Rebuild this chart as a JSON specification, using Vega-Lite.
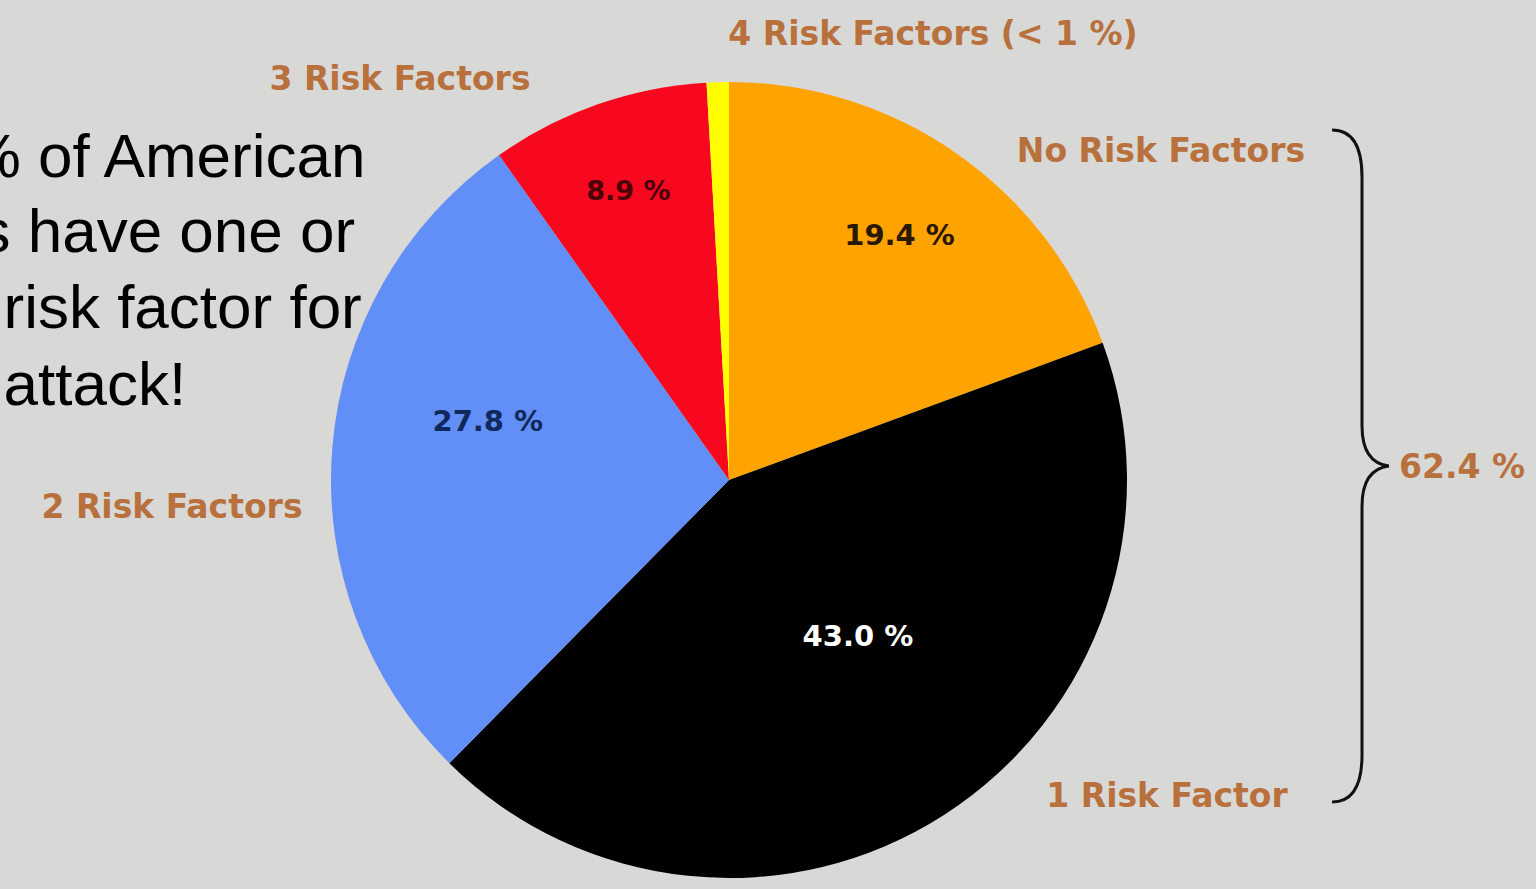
{
  "$schema": "https://vega.github.io/schema/vega-lite/v6.json",
  "width": 1536,
  "height": 889,
  "autosize": {"type": "none"},
  "padding": 0,
  "background": "#d8d8d6",
  "config": {"view": {"stroke": null}},
  "layer": [
    {
      "data": {"values": [
        {"group": "No Risk Factors", "pct": 19.4, "ord": 1, "label": "19.4 %"},
        {"group": "1 Risk Factor", "pct": 43.0, "ord": 2, "label": "43.0 %"},
        {"group": "2 Risk Factors", "pct": 27.8, "ord": 3, "label": "27.8 %"},
        {"group": "3 Risk Factors", "pct": 8.9, "ord": 4, "label": "8.9 %"},
        {"group": "4 Risk Factors", "pct": 0.9, "ord": 5, "label": "< 1 %"}
      ]},
      "encoding": {
        "x": {"datum": 729, "type": "quantitative", "scale": {"domain": [0, 1536], "nice": false, "zero": false}, "axis": null},
        "y": {"datum": 480, "type": "quantitative", "scale": {"domain": [0, 889], "nice": false, "zero": false, "reverse": true}, "axis": null},
        "theta": {"field": "pct", "type": "quantitative", "stack": true},
        "order": {"field": "ord", "type": "quantitative"}
      },
      "layer": [
        {
          "mark": {"type": "arc", "outerRadius": 398},
          "encoding": {
            "color": {
              "field": "group", "type": "nominal", "legend": null,
              "scale": {
                "domain": ["No Risk Factors", "1 Risk Factor", "2 Risk Factors", "3 Risk Factors", "4 Risk Factors"],
                "range": ["#ffa300", "#000000", "#628ef7", "#f8081f", "#ffff00"]
              }
            }
          }
        },
        {
          "mark": {"type": "text", "radius": 298, "font": "DejaVu Sans", "fontWeight": "bold", "fontSize": 29, "fill": "#2a1800", "baseline": "middle"},
          "encoding": {"text": {"condition": {"test": "datum.group === 'No Risk Factors'", "field": "label"}, "value": ""}}
        },
        {
          "mark": {"type": "text", "radius": 205, "dx": 18, "dy": -15, "font": "DejaVu Sans", "fontWeight": "bold", "fontSize": 29, "fill": "#ffffff", "baseline": "middle"},
          "encoding": {"text": {"condition": {"test": "datum.group === '1 Risk Factor'", "field": "label"}, "value": ""}}
        },
        {
          "mark": {"type": "text", "radius": 248, "dx": 6, "dy": -38, "font": "DejaVu Sans", "fontWeight": "bold", "fontSize": 29, "fill": "#10295c", "baseline": "middle"},
          "encoding": {"text": {"condition": {"test": "datum.group === '2 Risk Factors'", "field": "label"}, "value": ""}}
        },
        {
          "mark": {"type": "text", "radius": 305, "font": "DejaVu Sans", "fontWeight": "bold", "fontSize": 27, "fill": "#4a0008", "baseline": "middle"},
          "encoding": {"text": {"condition": {"test": "datum.group === '3 Risk Factors'", "field": "label"}, "value": ""}}
        }
      ]
    },
    {
      "data": {"values": [
        {"text": "3 Risk Factors", "px": 400, "py": 80},
        {"text": "4 Risk Factors (< 1 %)", "px": 933, "py": 35},
        {"text": "No Risk Factors", "px": 1161, "py": 152},
        {"text": "2 Risk Factors", "px": 172, "py": 508},
        {"text": "1 Risk Factor", "px": 1167, "py": 797},
        {"text": "62.4 %", "px": 1462, "py": 468}
      ]},
      "mark": {"type": "text", "font": "DejaVu Sans", "fontWeight": "bold", "fontSize": 33, "fill": "#b8703c", "align": "center", "baseline": "middle"},
      "encoding": {
        "x": {"field": "px", "type": "quantitative", "scale": {"domain": [0, 1536], "nice": false, "zero": false}, "axis": null},
        "y": {"field": "py", "type": "quantitative", "scale": {"domain": [0, 889], "nice": false, "zero": false, "reverse": true}, "axis": null},
        "text": {"field": "text"}
      }
    },
    {
      "data": {"values": [
        {"text": "62.4% of American", "px": -155, "py": 177},
        {"text": "adults have one or", "px": -155, "py": 252},
        {"text": "more risk factor for", "px": -155, "py": 328},
        {"text": "heart attack!", "px": -155, "py": 405}
      ]},
      "mark": {"type": "text", "font": "Liberation Sans", "fontSize": 62, "fill": "#000000", "align": "left", "baseline": "alphabetic"},
      "encoding": {
        "x": {"field": "px", "type": "quantitative", "scale": {"domain": [0, 1536], "nice": false, "zero": false}, "axis": null},
        "y": {"field": "py", "type": "quantitative", "scale": {"domain": [0, 889], "nice": false, "zero": false, "reverse": true}, "axis": null},
        "text": {"field": "text"}
      }
    },
    {
      "data": {"values": [{"item": "brace"}]},
      "mark": {
        "type": "point",
        "shape": "M -0.089 -1 Q 0 -1 0 -0.86 L 0 -0.12 Q 0 -0.01 0.08 0 Q 0 0.01 0 0.12 L 0 0.86 Q 0 1 -0.089 1",
        "size": 451584,
        "filled": false,
        "stroke": "#111111",
        "strokeWidth": 3,
        "opacity": 1
      },
      "encoding": {
        "x": {"datum": 1362, "type": "quantitative", "scale": {"domain": [0, 1536], "nice": false, "zero": false}, "axis": null},
        "y": {"datum": 466, "type": "quantitative", "scale": {"domain": [0, 889], "nice": false, "zero": false, "reverse": true}, "axis": null}
      }
    }
  ]
}
